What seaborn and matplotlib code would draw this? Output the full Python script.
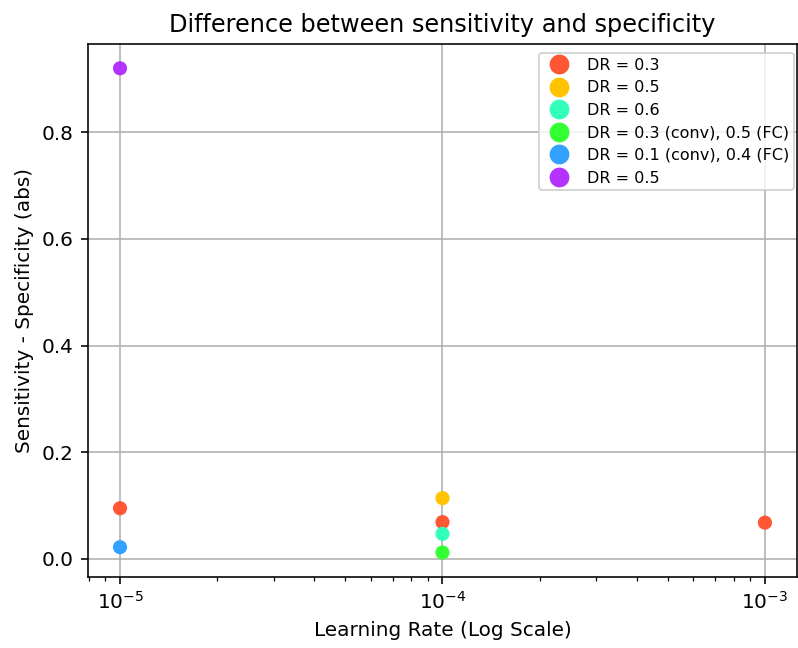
import matplotlib
matplotlib.use("Agg")
import matplotlib.pyplot as plt
import seaborn as sns
import pandas as pd

# Learning rates, |sensitivity - specificity| and dropout configuration per run
learning_rates = [1e-5, 1e-4, 1e-3, 1e-4, 1e-4, 1e-4, 1e-5, 1e-5]
abs_differences = [0.095, 0.069, 0.068, 0.114, 0.047, 0.012, 0.022, 0.920]
run_groups = [0, 0, 0, 1, 2, 3, 4, 5]
group_labels = ["DR = 0.3", "DR = 0.5", "DR = 0.6",
                "DR = 0.3 (conv), 0.5 (FC)", "DR = 0.1 (conv), 0.4 (FC)", "DR = 0.5"]
group_colors = ["#FF5733", "#FFC300", "#33FFBD", "#33FF33", "#33A1FF", "#B533FF"]

df = pd.DataFrame({"lr": learning_rates, "diff": abs_differences, "group": run_groups})

fig = plt.figure(figsize=(798 / 144, 648 / 144), dpi=144)
ax = fig.add_axes([0.110, 0.110, 0.889, 0.822])

sns.scatterplot(data=df, x="lr", y="diff", hue="group", palette=group_colors,
                s=50, edgecolor="none", ax=ax, legend=True, zorder=3)

ax.set_xscale("log")
ax.grid(True, which="major", color="#b0b0b0", linewidth=0.8)
ax.set_axisbelow(True)
ax.set_title("Difference between sensitivity and specificity", fontsize=12)
ax.set_xlabel("Learning Rate (Log Scale)")
ax.set_ylabel("Sensitivity - Specificity (abs)")

handles, _ = ax.get_legend_handles_labels()
ax.legend(handles, group_labels, loc="upper right", bbox_to_anchor=(0.995, 0.983),
          borderaxespad=0, fontsize=8, markerscale=1.4, labelspacing=0.47,
          handletextpad=0.7, borderpad=0.3)

fig.savefig("out.png", dpi=144)
